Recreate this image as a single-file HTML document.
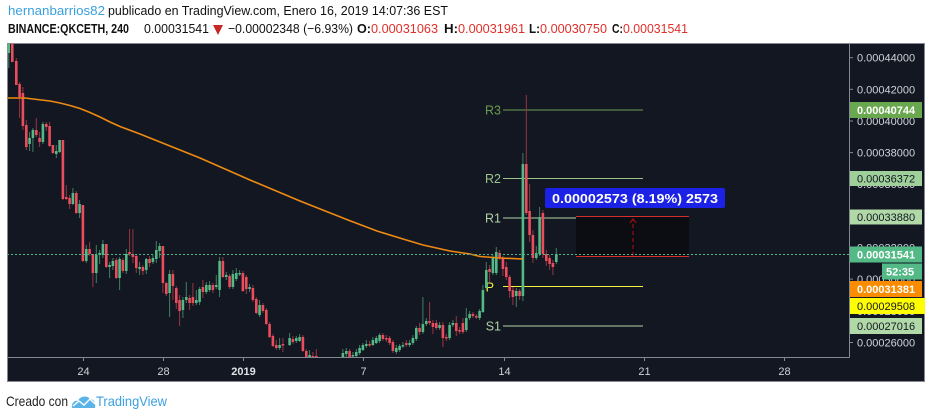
<!DOCTYPE html>
<html><head><meta charset="utf-8">
<style>
html,body{margin:0;padding:0;background:#fff;width:932px;height:419px;overflow:hidden}
svg{display:block}
text{font-family:"Liberation Sans",Arial,sans-serif}
</style></head>
<body>
<svg width="932" height="419" viewBox="0 0 932 419" xmlns="http://www.w3.org/2000/svg">
<defs>
<clipPath id="plot"><rect x="7.5" y="43.5" width="841.5" height="313.5"/></clipPath>
</defs>
<!-- header -->
<text x="8" y="15" font-size="13" fill="#3aa0dd" textLength="97" lengthAdjust="spacingAndGlyphs">hernanbarrios82</text>
<text x="108" y="15" font-size="13" fill="#111" textLength="340" lengthAdjust="spacingAndGlyphs">publicado en TradingView.com, Enero 16, 2019 14:07:36 EST</text>
<text x="8" y="33" font-size="13" font-weight="bold" fill="#111" textLength="121" lengthAdjust="spacingAndGlyphs">BINANCE:QKCETH, 240</text>
<text x="144" y="33" font-size="13" fill="#111" textLength="65" lengthAdjust="spacingAndGlyphs">0.00031541</text>
<polygon points="213,25 223,25 218,35" fill="#c62828"/>
<text x="228" y="33" font-size="13" fill="#111" textLength="125" lengthAdjust="spacingAndGlyphs">−0.00002348 (−6.93%)</text>
<text x="357" y="33" font-size="13" font-weight="bold" fill="#111" textLength="14" lengthAdjust="spacingAndGlyphs">O:</text>
<text x="371" y="33" font-size="13" fill="#e0302a" textLength="67" lengthAdjust="spacingAndGlyphs">0.00031063</text>
<text x="444" y="33" font-size="13" font-weight="bold" fill="#111" textLength="14" lengthAdjust="spacingAndGlyphs">H:</text>
<text x="458" y="33" font-size="13" fill="#e0302a" textLength="67" lengthAdjust="spacingAndGlyphs">0.00031961</text>
<text x="529" y="33" font-size="13" font-weight="bold" fill="#111" textLength="11" lengthAdjust="spacingAndGlyphs">L:</text>
<text x="540" y="33" font-size="13" fill="#e0302a" textLength="67" lengthAdjust="spacingAndGlyphs">0.00030750</text>
<text x="612" y="33" font-size="13" font-weight="bold" fill="#111" textLength="11" lengthAdjust="spacingAndGlyphs">C:</text>
<text x="623" y="33" font-size="13" fill="#e0302a" textLength="65" lengthAdjust="spacingAndGlyphs">0.00031541</text>

<!-- chart frame -->
<rect x="7.5" y="43.5" width="917" height="338" fill="#131722" stroke="#868993" stroke-width="1"/>
<line x1="7" y1="357.5" x2="849.5" y2="357.5" stroke="#868993"/>
<line x1="849.5" y1="43" x2="849.5" y2="357.5" stroke="#868993"/>

<g clip-path="url(#plot)">
<!-- pivot lines -->
<line x1="503" y1="110" x2="643" y2="110" stroke="#6a9c4e" stroke-width="1"/>
<line x1="503" y1="178.5" x2="643" y2="178.5" stroke="#9cc48c" stroke-width="1"/>
<line x1="503" y1="218" x2="643" y2="218" stroke="#b0d2a4" stroke-width="1"/>
<line x1="503" y1="286.5" x2="643" y2="286.5" stroke="#f2f23a" stroke-width="1"/>
<line x1="503" y1="326" x2="643" y2="326" stroke="#b0d2a4" stroke-width="1"/>
<g font-size="12.5">
<text x="501" y="114.5" fill="#6a9c4e" text-anchor="end">R3</text>
<text x="501" y="183" fill="#9cc48c" text-anchor="end">R2</text>
<text x="501" y="222.5" fill="#b0d2a4" text-anchor="end">R1</text>
<text x="494" y="291.5" fill="#f2f23a" text-anchor="end">P</text>
<text x="501" y="330.5" fill="#b0d2a4" text-anchor="end">S1</text>
</g>

<!-- measure box -->
<rect x="576" y="217" width="113" height="39" fill="#0b0d13"/>
<line x1="576" y1="216.5" x2="689" y2="216.5" stroke="#d32f2f" stroke-width="1"/>
<line x1="576" y1="256.5" x2="689" y2="256.5" stroke="#d32f2f" stroke-width="1"/>
<line x1="633" y1="256" x2="633" y2="220" stroke="#8e1010" stroke-width="1.3" stroke-dasharray="4,3"/>
<polyline points="630,223 633,219 636,223" fill="none" stroke="#8e1010" stroke-width="1.3"/>

<!-- candles -->
<path fill="none" stroke="#3f7f61" stroke-width="1" d="M8.8 40V68 M29.6 132V151 M32.9 128V152 M42.9 122V144 M56.3 145V158 M59.6 140V153 M72.9 188V205 M79.6 200V218 M86.3 245V263 M96.3 245V283 M99.6 250V264 M102.9 240V258 M109.6 262V278 M112.9 258V270 M119.6 257V290 M126.3 249V274 M139.6 262V275 M146.3 258V274 M152.9 255V264 M156.3 241V263 M159.6 243V258 M169.6 270V317 M182.9 297V318 M186.3 282V303 M196.3 290V305 M199.6 287V305 M206.3 282V294 M209.6 281V292 M216.3 275V289 M219.6 257V297 M226.3 272V280 M232.9 270V289 M236.3 268V281 M239.6 270V276 M249.6 284V292 M259.6 300V317 M279.6 338V350 M289.6 333V346 M296.3 336V343 M299.6 334V342 M309.6 350V357 M342.9 349V357 M346.3 348V357 M352.9 352V357 M356.3 349V357 M359.6 345V355 M362.9 343V351 M366.3 340V348 M372.9 337V346 M376.3 336V344 M379.6 333V343 M396.3 345V354 M399.6 344V352 M402.9 342V348 M409.6 340V347 M412.9 335V345 M416.3 326V341 M422.9 297V334 M426.3 318V326 M439.6 322V330 M449.6 322V340 M452.9 320V327 M466.3 308V332 M469.6 311V320 M479.6 309V320 M482.9 285V313 M486.3 262V290 M492.9 255V275 M496.3 247V275 M516.3 288V307 M522.9 153V301 M536.3 246V260 M539.6 207V256 M556.3 248V264"/>
<path fill="none" stroke="#9a3542" stroke-width="1" d="M12.3 40V62 M16.3 58V85 M19.6 82V118 M22.9 87V130 M26.3 120V150 M36.3 118V137 M39.6 132V147 M46.3 122V131 M49.6 122V147 M52.9 145V154 M62.9 140V200 M66.3 185V200 M69.6 195V209 M76.3 191V214 M82.9 205V262 M89.6 242V256 M92.9 254V287 M106.3 244V268 M116.3 258V279 M122.9 258V273 M129.6 229V256 M132.9 229V263 M136.3 254V273 M142.9 265V275 M149.6 256V267 M162.9 246V293 M166.3 282V296 M172.9 270V300 M176.3 286V309 M179.6 295V326 M189.6 295V310 M192.9 283V306 M202.9 280V298 M212.9 283V293 M222.9 257V278 M229.6 274V289 M242.9 271V292 M246.3 275V294 M252.9 285V302 M256.3 297V314 M262.9 303V313 M266.3 308V325 M269.6 322V338 M272.9 334V347 M276.3 340V350 M282.9 338V352 M292.9 336V344 M302.9 335V352 M306.3 349V357 M312.9 352V357 M316.3 349V357 M349.6 349V357 M369.6 341V347 M382.9 333V341 M386.3 335V342 M389.6 336V345 M392.9 340V353 M406.3 340V347 M419.6 323V335 M429.6 302V325 M432.9 320V334 M436.3 320V330 M442.9 322V347 M446.3 334V341 M456.3 316V336 M459.6 327V334 M462.9 318V334 M472.9 312V318 M476.3 314V319 M489.6 265V282 M499.6 250V260 M502.9 256V276 M506.3 262V280 M509.6 275V298 M512.9 287V305 M519.6 289V300 M526.3 95V215 M529.6 184V242 M532.9 230V263 M542.9 210V258 M546.3 250V266 M549.6 255V270 M552.9 260V275"/>
<path fill="#53b987" d="M7.5 43h2.6v10h-2.6z M28.3 138h2.6v6h-2.6z M31.6 130h2.6v8h-2.6z M41.6 124h2.6v18h-2.6z M55 151h2.6v3h-2.6z M58.3 140h2.6v12h-2.6z M71.6 193h2.6v11h-2.6z M78.3 204h2.6v9h-2.6z M85 249h2.6v12h-2.6z M95 255h2.6v18h-2.6z M98.3 253h2.6v2h-2.6z M101.6 244h2.6v11h-2.6z M108.3 265h2.6v2h-2.6z M111.6 261h2.6v5h-2.6z M118.3 259h2.6v19h-2.6z M125 254h2.6v17h-2.6z M138.3 267h2.6v2h-2.6z M145 259h2.6v11h-2.6z M151.6 258h2.6v4h-2.6z M155 250h2.6v9h-2.6z M158.3 246h2.6v5h-2.6z M168.3 274h2.6v19h-2.6z M181.6 300h2.6v10h-2.6z M185 297h2.6v3h-2.6z M195 300h2.6v3h-2.6z M198.3 289h2.6v13h-2.6z M205 285h2.6v7h-2.6z M208.3 285h2.6v5h-2.6z M215 285h2.6v2h-2.6z M218.3 261h2.6v29h-2.6z M225 275h2.6v2h-2.6z M231.6 274h2.6v13h-2.6z M235 273h2.6v6h-2.6z M238.3 273h2.6v1.5h-2.6z M248.3 287h2.6v2h-2.6z M258.3 305h2.6v10h-2.6z M278.3 345h2.6v3h-2.6z M288.3 338h2.6v7h-2.6z M295 338h2.6v3h-2.6z M298.3 337h2.6v4h-2.6z M308.3 355h2.6v2h-2.6z M341.6 353h2.6v4h-2.6z M345 351h2.6v3h-2.6z M351.6 355h2.6v1.5h-2.6z M355 352h2.6v4h-2.6z M358.3 348h2.6v5h-2.6z M361.6 345h2.6v5h-2.6z M365 344h2.6v2h-2.6z M371.6 340h2.6v5h-2.6z M375 338h2.6v5h-2.6z M378.3 335h2.6v6h-2.6z M395 348h2.6v4h-2.6z M398.3 346h2.6v4h-2.6z M401.6 345h2.6v1.5h-2.6z M408.3 343h2.6v2h-2.6z M411.6 338h2.6v5h-2.6z M415 328h2.6v11h-2.6z M421.6 324h2.6v8h-2.6z M425 321h2.6v3h-2.6z M438.3 325h2.6v3h-2.6z M448.3 325h2.6v13h-2.6z M451.6 323h2.6v2h-2.6z M465 318h2.6v12h-2.6z M468.3 314h2.6v4h-2.6z M478.3 311h2.6v7h-2.6z M481.6 290h2.6v22h-2.6z M485 270h2.6v18h-2.6z M491.6 258h2.6v15h-2.6z M495 252h2.6v21h-2.6z M515 291h2.6v5h-2.6z M521.6 164h2.6v132h-2.6z M535 253h2.6v5h-2.6z M538.3 217h2.6v37h-2.6z M555 254h2.6v8h-2.6z"/>
<path fill="#eb4d5c" d="M11 43h2.6v19h-2.6z M15 61h2.6v24h-2.6z M18.3 84h2.6v13h-2.6z M21.6 93h2.6v33h-2.6z M25 125h2.6v22h-2.6z M35 130h2.6v5h-2.6z M38.3 138h2.6v4h-2.6z M45 124h2.6v3h-2.6z M48.3 126h2.6v20h-2.6z M51.6 145h2.6v8h-2.6z M61.6 140h2.6v59h-2.6z M65 197h2.6v2h-2.6z M68.3 198h2.6v6h-2.6z M75 193h2.6v20h-2.6z M81.6 205h2.6v56h-2.6z M88.3 249h2.6v5h-2.6z M91.6 254h2.6v19h-2.6z M105 244h2.6v23h-2.6z M115 260h2.6v18h-2.6z M121.6 260h2.6v11h-2.6z M128.3 252h2.6v2h-2.6z M131.6 254h2.6v3h-2.6z M135 256h2.6v12h-2.6z M141.6 267h2.6v4h-2.6z M148.3 259h2.6v4h-2.6z M161.6 246h2.6v37h-2.6z M165 283h2.6v11h-2.6z M171.6 274h2.6v12h-2.6z M175 288h2.6v15h-2.6z M178.3 300h2.6v11h-2.6z M188.3 298h2.6v5h-2.6z M191.6 297h2.6v6h-2.6z M201.6 287h2.6v5h-2.6z M211.6 285h2.6v5h-2.6z M221.6 261h2.6v16h-2.6z M228.3 276h2.6v11h-2.6z M241.6 273h2.6v18h-2.6z M245 277h2.6v12h-2.6z M251.6 288h2.6v12h-2.6z M255 299h2.6v14h-2.6z M261.6 305h2.6v6h-2.6z M265 310h2.6v14h-2.6z M268.3 324h2.6v13h-2.6z M271.6 336h2.6v10h-2.6z M275 345h2.6v3h-2.6z M281.6 344h2.6v1.5h-2.6z M291.6 339h2.6v3h-2.6z M301.6 337h2.6v14h-2.6z M305 351h2.6v6h-2.6z M311.6 356h2.6v1h-2.6z M315 356h2.6v1h-2.6z M348.3 351h2.6v6h-2.6z M368.3 344h2.6v1.5h-2.6z M381.6 335h2.6v4h-2.6z M385 338h2.6v1.5h-2.6z M388.3 338h2.6v5h-2.6z M391.6 342h2.6v9h-2.6z M405 343h2.6v2h-2.6z M418.3 328h2.6v4h-2.6z M428.3 321h2.6v2h-2.6z M431.6 323h2.6v4h-2.6z M435 323h2.6v5h-2.6z M441.6 325h2.6v13h-2.6z M445 337h2.6v1.5h-2.6z M455 323h2.6v8h-2.6z M458.3 330h2.6v1.5h-2.6z M461.6 323h2.6v9h-2.6z M471.6 314h2.6v2h-2.6z M475 316h2.6v1.5h-2.6z M488.3 269h2.6v3h-2.6z M498.3 253h2.6v5h-2.6z M501.6 258h2.6v11h-2.6z M505 267h2.6v10h-2.6z M508.3 277h2.6v14h-2.6z M511.6 290h2.6v7h-2.6z M518.3 291h2.6v5h-2.6z M525 164h2.6v49h-2.6z M528.3 211h2.6v24h-2.6z M531.6 235h2.6v23h-2.6z M541.6 213h2.6v41h-2.6z M545 254h2.6v7h-2.6z M548.3 258h2.6v6h-2.6z M551.6 263h2.6v4h-2.6z"/>

<!-- moving average -->
<polyline fill="none" stroke="#ee8a12" stroke-width="1.6" points="7,98 25,98 33,99 50,101 60,103 70,105.5 80,108.5 90,112.5 100,117 110,122 120,126.5 140,134 150,138 160,142 180,150 200,158 250,180 300,201 348,220 377,231 403,239 423,245 450,251 470,254 480,256.5 500,258 523,259"/>

<!-- current price dotted line -->
<line x1="7" y1="254.5" x2="849" y2="254.5" stroke="#4cb486" stroke-width="1" stroke-dasharray="2,2"/>
</g>

<!-- measure label -->
<rect x="545" y="188" width="180" height="20" rx="2" fill="#1b22e6"/>
<text x="552" y="203" font-size="13" font-weight="bold" fill="#fff" textLength="166" lengthAdjust="spacingAndGlyphs">0.00002573 (8.19%) 2573</text>

<!-- time axis -->
<g stroke="#868993" stroke-width="1">
<line x1="83.5" y1="357" x2="83.5" y2="361"/><line x1="163.5" y1="357" x2="163.5" y2="361"/><line x1="243.5" y1="357" x2="243.5" y2="361"/><line x1="363.5" y1="357" x2="363.5" y2="361"/><line x1="504.5" y1="357" x2="504.5" y2="361"/><line x1="644.5" y1="357" x2="644.5" y2="361"/><line x1="784.5" y1="357" x2="784.5" y2="361"/>
</g>
<g font-size="11" fill="#cfd2d9" text-anchor="middle">
<text x="83.5" y="375">24</text>
<text x="163.5" y="375">28</text>
<text x="243.5" y="375" font-weight="bold" fill="#e0e2e8">2019</text>
<text x="363.5" y="375">7</text>
<text x="504.5" y="375">14</text>
<text x="644.5" y="375">21</text>
<text x="784.5" y="375">28</text>
</g>

<!-- price axis ticks -->
<g stroke="#868993" stroke-width="1">
<line x1="849" y1="57.7" x2="853" y2="57.7"/><line x1="849" y1="89.3" x2="853" y2="89.3"/><line x1="849" y1="121" x2="853" y2="121"/><line x1="849" y1="152.6" x2="853" y2="152.6"/><line x1="849" y1="184.2" x2="853" y2="184.2"/><line x1="849" y1="215.9" x2="853" y2="215.9"/><line x1="849" y1="247.5" x2="853" y2="247.5"/><line x1="849" y1="279.1" x2="853" y2="279.1"/><line x1="849" y1="310.8" x2="853" y2="310.8"/><line x1="849" y1="342.5" x2="853" y2="342.5"/>
</g>
<g font-size="11" fill="#cfd2d9">
<text x="857" y="61.7">0.00044000</text>
<text x="857" y="93.3">0.00042000</text>
<text x="857" y="125">0.00040000</text>
<text x="857" y="156.6">0.00038000</text>
<text x="857" y="188.2">0.00036000</text>
<text x="857" y="219.9">0.00034000</text>
<text x="857" y="251.5">0.00032000</text>
<text x="857" y="283.1">0.00030000</text>
<text x="857" y="314.8">0.00028000</text>
<text x="857" y="346.5">0.00026000</text>
</g>

<!-- price labels -->
<rect x="850" y="102" width="72" height="16" fill="#6aa84f"/>
<text x="857" y="114" font-size="11" font-weight="bold" fill="#fff">0.00040744</text>
<rect x="850" y="171" width="72" height="15" fill="#9fd09a"/>
<text x="857" y="182.5" font-size="11" fill="#131722">0.00036372</text>
<rect x="850" y="209.5" width="72" height="15" fill="#b1d9a8"/>
<text x="857" y="221" font-size="11" fill="#131722">0.00033880</text>
<rect x="850" y="246.5" width="72" height="16" fill="#53b987"/>
<text x="857" y="258.5" font-size="11" font-weight="bold" fill="#fff">0.00031541</text>
<rect x="882" y="263.5" width="40" height="16" fill="#53b987"/>
<text x="886" y="275.5" font-size="11" font-weight="bold" fill="#fff">52:35</text>
<rect x="850" y="281" width="72" height="16" fill="#fb8c00"/>
<text x="857" y="293" font-size="11" font-weight="bold" fill="#fff">0.00031381</text>
<rect x="850" y="298" width="75" height="16" fill="#ffff00"/>
<text x="857" y="310" font-size="11" fill="#131722">0.00029508</text>
<rect x="850" y="318" width="72" height="16" fill="#b1d9a8"/>
<text x="857" y="330" font-size="11" fill="#131722">0.00027016</text>

<!-- footer -->
<text x="6" y="406" font-size="14" fill="#222" textLength="62" lengthAdjust="spacingAndGlyphs">Creado con</text>
<path d="M72,408 C71,403 75,400 78,401 C80,396 87,395 90,399 C94,399 96,403 95,408 Z" fill="#5ab4e8"/>
<polyline points="73,406 79,401 84,405 90,399 95,404" fill="none" stroke="#ffffff" stroke-width="1.4"/>
<text x="96" y="406" font-size="14" fill="#3ba0e0" textLength="71" lengthAdjust="spacingAndGlyphs">TradingView</text>
</svg>
</body></html>
